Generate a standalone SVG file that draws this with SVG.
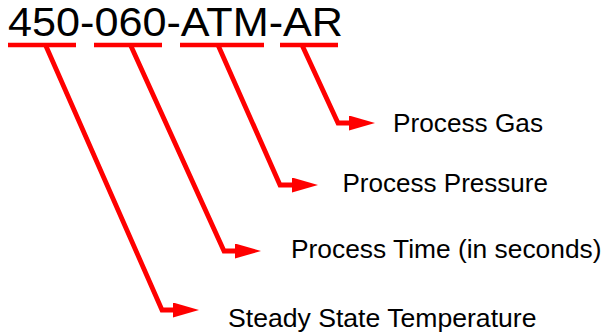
<svg xmlns="http://www.w3.org/2000/svg" width="605" height="336" viewBox="0 0 605 336">
  <defs>
    <marker id="arrow" markerUnits="userSpaceOnUse" markerWidth="28" markerHeight="16" refX="2" refY="7.5" orient="auto" viewBox="0 0 28 16">
      <path d="M0,0 L26,7.5 L0,15 Z" fill="#ff0000"/>
    </marker>
    <style>
      .lbl { font-family: "Liberation Sans", Arial, sans-serif; font-size: 25.5px; fill: #000; }
      .code { font-family: "Liberation Sans", Arial, sans-serif; font-size: 40px; fill: #000; }
      .ul { stroke: #ff0000; stroke-width: 4.7; fill: none; }
      .ln { stroke: #ff0000; stroke-width: 4.8; fill: none; stroke-linejoin: miter; stroke-miterlimit: 10; marker-end: url(#arrow); }
    </style>
  </defs>
  <rect width="605" height="336" fill="#ffffff"/>
  <g id="code">
    <text class="code" x="8" y="36" textLength="335" lengthAdjust="spacingAndGlyphs">450-060-ATM-AR</text>
    <line class="ul" x1="8" y1="45" x2="76" y2="45"/>
    <line class="ul" x1="94" y1="45" x2="162" y2="45"/>
    <line class="ul" x1="180" y1="45" x2="264" y2="45"/>
    <line class="ul" x1="280" y1="45" x2="338" y2="45"/>
  </g>
  <g id="connectors">
    <polyline class="ln" points="45.5,45 162,310 175,310"/>
    <polyline class="ln" points="130.5,45 224,251 237,251"/>
    <polyline class="ln" points="218,45 280,185 294,185"/>
    <polyline class="ln" points="302,45 338,123 351,123"/>
  </g>
  <g id="gas">
    <text class="lbl" x="393" y="132" textLength="150" lengthAdjust="spacingAndGlyphs">Process Gas</text>
  </g>
  <g id="pressure">
    <text class="lbl" x="342.5" y="192" textLength="205.5" lengthAdjust="spacingAndGlyphs">Process Pressure</text>
  </g>
  <g id="time">
    <text class="lbl" x="291" y="258" textLength="310.5" lengthAdjust="spacingAndGlyphs">Process Time (in seconds)</text>
  </g>
  <g id="temperature">
    <text class="lbl" x="228" y="327" textLength="308.5" lengthAdjust="spacingAndGlyphs">Steady State Temperature</text>
  </g>
</svg>
